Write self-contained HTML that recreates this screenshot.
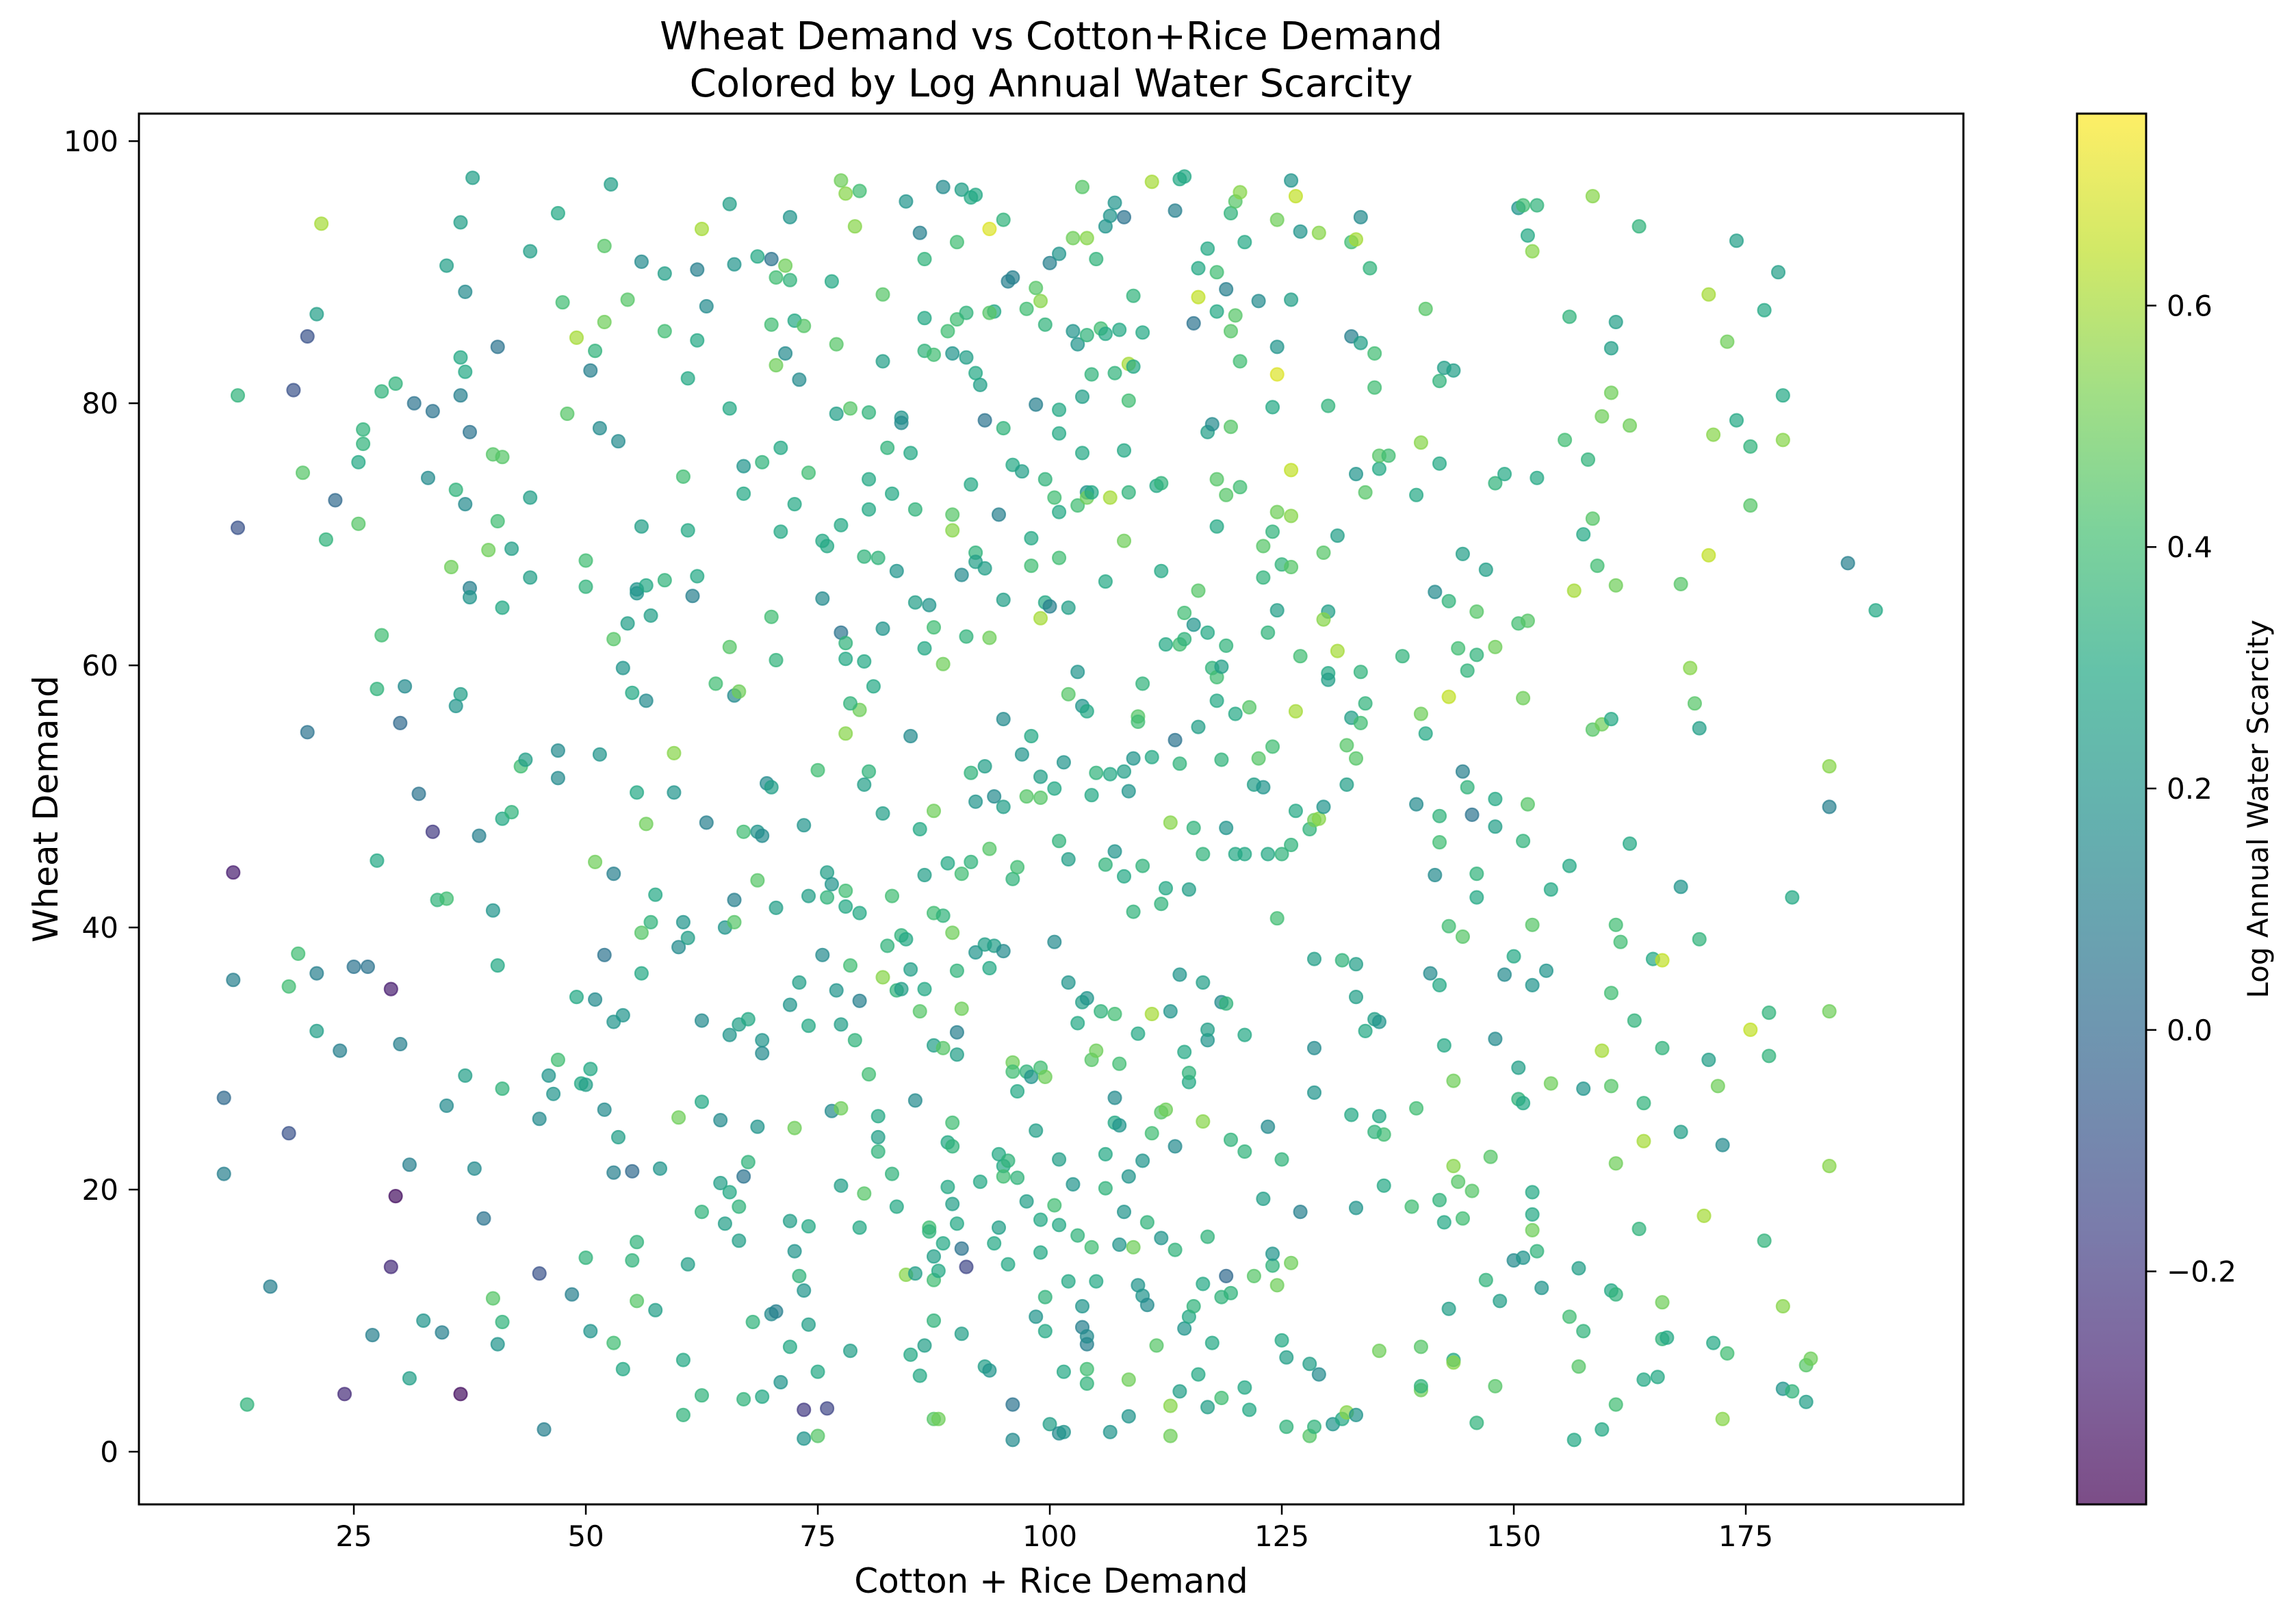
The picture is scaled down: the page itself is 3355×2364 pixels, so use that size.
<!DOCTYPE html>
<html><head><meta charset="utf-8"><style>
html,body{margin:0;padding:0;background:#fff}
svg{display:block}
text{font-family:"DejaVu Sans","Liberation Sans",sans-serif;fill:#000}
</style></head><body>
<svg id="chart" width="3355" height="2364" viewBox="0 0 3355 2364" xmlns="http://www.w3.org/2000/svg">
<defs>
<linearGradient id="vir" x1="0" y1="1" x2="0" y2="0">
<stop offset="0" stop-color="#440154" stop-opacity="0.7"/><stop offset="0.1" stop-color="#482475" stop-opacity="0.7"/><stop offset="0.2" stop-color="#414487" stop-opacity="0.7"/><stop offset="0.3" stop-color="#355f8d" stop-opacity="0.7"/><stop offset="0.4" stop-color="#2a788e" stop-opacity="0.7"/><stop offset="0.5" stop-color="#21918c" stop-opacity="0.7"/><stop offset="0.6" stop-color="#22a884" stop-opacity="0.7"/><stop offset="0.7" stop-color="#44bf70" stop-opacity="0.7"/><stop offset="0.8" stop-color="#7ad151" stop-opacity="0.7"/><stop offset="0.9" stop-color="#bddf26" stop-opacity="0.7"/><stop offset="1" stop-color="#fde725" stop-opacity="0.7"/>
</linearGradient>
</defs>
<text x="1536" y="72" font-size="56" text-anchor="middle">Wheat Demand vs Cotton+Rice Demand</text>
<text x="1536" y="141" font-size="56" text-anchor="middle">Colored by Log Annual Water Scarcity</text>
<g id="points"></g>
<rect x="203" y="166" width="2666" height="2032" fill="none" stroke="#000" stroke-width="3"/>
<g id="xticks"></g>
<g id="yticks"></g>
<text x="1536" y="2327" font-size="50" text-anchor="middle">Cotton + Rice Demand</text>
<text x="0" y="0" font-size="50" text-anchor="middle" transform="translate(84,1182) rotate(-90)">Wheat Demand</text>
<rect x="3035" y="166" width="101" height="2032" fill="url(#vir)" stroke="#000" stroke-width="3"/>
<g id="cticks"></g>
<text x="0" y="0" font-size="42" text-anchor="middle" transform="translate(3314,1182) rotate(-90)">Log Annual Water Scarcity</text>
</svg>
<script>
const xTicks=[25,50,75,100,125,150,175];
const yTicks=[0,20,40,60,80,100];
const cTicks=[-0.2,0.0,0.2,0.4,0.6];
const cTickLabels=["\u22120.2","0.0","0.2","0.4","0.6"];
const cotton=[];const wheat=[];const scarcity=[];
const pts=[
[21.5,93.7,0.6],[37.8,97.2,0.25],[52.7,96.7,0.25],[36.5,93.8,0.25],[35,90.5,0.25],[44,91.6,0.25],[47,94.5,0.3],[52,92,0.45],[56,90.8,0.15],[58.5,89.9,0.25],[62.5,93.3,0.6],[62,90.2,0.1],[65.5,95.2,0.25],[66,90.6,0.2],[68.5,91.2,0.3],[70,91,0.05],[71.5,90.5,0.5],[72,94.2,0.2],[70.5,89.6,0.4],[77.5,97,0.5],[78,96,0.55],[79.5,96.2,0.4],[79,93.5,0.55],[84.5,95.4,0.2],[86,93,0.1],[88.5,96.5,0.15],[90.5,96.3,0.25],[91.5,95.7,0.3],[92,95.9,0.3],[93.5,93.3,0.7],[95,94,0.35],[90,92.3,0.4],[86.5,91,0.35],[100,90.7,0.1],[101,91.4,0.2],[102.5,92.6,0.5],[103.5,96.5,0.45],[104,92.6,0.55],[105,91,0.35],[106,93.5,0.2],[106.5,94.3,0.2],[107,95.3,0.2],[108,94.2,0.05],[111,96.9,0.6],[113.5,94.7,0.1],[114,97.1,0.3],[114.5,97.3,0.3],[117,91.8,0.3],[118,90,0.4],[119.5,94.5,0.35],[120,95.4,0.45],[120.5,96.1,0.55],[121,92.3,0.3],[122.5,87.8,0.15],[124.5,94,0.5],[126,97,0.2],[126.5,95.8,0.65],[127,93.1,0.2],[129,93,0.55],[132.5,92.3,0.4],[133,92.5,0.6],[133.5,94.2,0.15],[134.5,90.3,0.35],[150.5,94.9,0.2],[151,95.1,0.4],[152.5,95.1,0.35],[151.5,92.8,0.3],[152,91.6,0.55],[158.5,95.8,0.55],[163.5,93.5,0.35],[174,92.4,0.25],[178.5,90,0.25],
[12.5,80.6,0.35],[18.5,81,-0.1],[20,85.1,-0.1],[21,86.8,0.25],[19.5,74.7,0.45],[26,78,0.35],[26,76.9,0.35],[28,80.9,0.35],[29.5,81.5,0.35],[31.5,80,0.05],[33.5,79.4,0.05],[36.5,80.6,0.1],[37,82.4,0.3],[37,88.5,0.15],[36.5,83.5,0.3],[40.5,84.3,0.05],[47.5,87.7,0.4],[48,79.2,0.45],[49,85,0.6],[50.5,82.5,0.1],[51,84,0.35],[52,86.2,0.5],[54.5,87.9,0.45],[51.5,78.1,0.15],[53.5,77.1,0.15],[58.5,85.5,0.4],[62,84.8,0.3],[63,87.4,0.15],[61,81.9,0.3],[65.5,79.6,0.3],[67,75.2,0.2],[69,75.5,0.35],[70,86,0.4],[70.5,82.9,0.5],[71,76.6,0.3],[71.5,83.8,0.15],[72,89.4,0.35],[72.5,86.3,0.3],[73,81.8,0.15],[73.5,85.9,0.45],[76.5,89.3,0.3],[77,84.5,0.45],[78.5,79.6,0.45],[80.5,74.2,0.3],[80.5,79.3,0.35],[82,88.3,0.45],[82,83.2,0.25],[84,78.9,0.2],[84,78.5,0.15],[86.5,86.5,0.3],[86.5,84,0.35],[87.5,83.7,0.4],[89,85.5,0.4],[89.5,83.8,0.2],[90,86.4,0.4],[91,86.9,0.35],[91,83.5,0.25],[92.5,81.4,0.25],[94,87,0.3],[93.5,86.9,0.45],[92,82.3,0.3],[95.5,89.3,0.1],[96,89.6,0.1],[97.5,87.2,0.4],[98.5,88.8,0.45],[99,87.8,0.55],[98.5,79.9,0.1],[99.5,86,0.35],[101,79.5,0.3],[101,77.7,0.3],[102.5,85.5,0.2],[103,84.5,0.2],[103.5,80.5,0.25],[104,85.2,0.35],[104.5,82.2,0.35],[105.5,85.7,0.4],[106,85.3,0.3],[107,82.3,0.35],[107.5,85.6,0.3],[108.5,80.2,0.4],[108.5,83,0.6],[109,82.8,0.3],[109,88.2,0.35],[110,85.4,0.3],[115.5,86.1,0.05],[116,88.1,0.65],[116,90.3,0.3],[118,87,0.3],[119,88.7,0.1],[119.5,85.5,0.45],[120,86.7,0.45],[120.5,83.2,0.4],[117,77.8,0.25],[117.5,78.4,0.15],[119.5,78.2,0.45],[124,79.7,0.3],[124.5,84.3,0.2],[124.5,82.2,0.7],[126,87.9,0.25],[132.5,85.1,0.1],[133.5,84.6,0.25],[135,83.8,0.4],[135,81.2,0.4],[140.5,87.2,0.45],[142,81.7,0.35],[142.5,82.7,0.25],[143.5,82.5,0.25],[156,86.6,0.35],[160.5,84.2,0.25],[161,86.2,0.25],[160.5,80.8,0.5],[162.5,78.3,0.5],[159.5,79,0.5],[171,88.3,0.6],[173,84.7,0.5],[177,87.1,0.3],[179,80.6,0.3],[171.5,77.6,0.55],[174,78.7,0.3],[175.5,76.7,0.35],[179,77.2,0.55],
[12.5,70.5,-0.1],[23,72.6,0],[22,69.6,0.35],[25.5,75.5,0.3],[25.5,70.8,0.45],[28,62.3,0.4],[33,74.3,0.15],[36,73.4,0.35],[37,72.3,0.15],[35.5,67.5,0.5],[37.5,65.9,0.1],[37.5,65.2,0.2],[37.5,77.8,0.05],[39.5,68.8,0.5],[40,76.1,0.45],[41,75.9,0.45],[42,68.9,0.25],[40.5,71,0.4],[41,64.4,0.3],[44,72.8,0.25],[44,66.7,0.25],[50,66,0.35],[50,68,0.4],[53,62,0.45],[54.5,63.2,0.25],[54,59.8,0.2],[55.5,65.5,0.2],[55.5,65.8,0.2],[56,70.6,0.25],[56.5,66.1,0.3],[57,63.8,0.25],[58.5,66.5,0.35],[60.5,74.4,0.4],[61,70.3,0.3],[62,66.8,0.3],[61.5,65.3,0.1],[64,58.6,0.4],[65.5,61.4,0.45],[66,57.7,0.15],[66.5,58,0.5],[67,73.1,0.3],[70,63.7,0.4],[70.5,60.4,0.35],[71,70.2,0.3],[72.5,72.3,0.3],[74,74.7,0.4],[75.5,69.5,0.3],[75.5,65.1,0.15],[76,69.1,0.3],[77,79.2,0.25],[77.5,70.7,0.3],[77.5,62.5,0.05],[78,61.7,0.35],[78,60.5,0.3],[80,68.3,0.35],[80.5,71.9,0.3],[81.5,68.2,0.35],[80,60.3,0.3],[81,58.4,0.3],[82,62.8,0.2],[82.5,76.6,0.35],[83,73.1,0.3],[83.5,67.2,0.2],[85,76.2,0.3],[85.5,71.9,0.35],[85.5,64.8,0.25],[86.5,61.3,0.3],[87,64.6,0.2],[87.5,62.9,0.4],[88.5,60.1,0.5],[89.5,71.5,0.45],[89.5,70.3,0.55],[90.5,66.9,0.15],[91,62.2,0.35],[91.5,73.8,0.3],[92,68.6,0.35],[92,67.9,0.25],[93,67.4,0.25],[93,78.7,0.05],[93.5,62.1,0.5],[94.5,71.5,0.1],[95,65,0.25],[95,78.1,0.35],[96,75.3,0.3],[97,74.8,0.25],[98,69.7,0.3],[98,67.6,0.4],[99,63.6,0.6],[99.5,64.8,0.3],[99.5,74.2,0.35],[100,64.5,0.1],[100.5,72.8,0.4],[101,71.7,0.3],[101,68.2,0.4],[102,64.4,0.25],[103,72.2,0.4],[103.5,76.2,0.3],[104,73.2,0.2],[104,72.8,0.5],[104.5,73.2,0.3],[106,66.4,0.3],[106.5,72.8,0.6],[108,69.5,0.5],[108,76.4,0.3],[108.5,73.2,0.35],[111.5,73.7,0.3],[112,73.9,0.35],[112,67.2,0.3],[112.5,61.6,0.3],[114,61.6,0.4],[114.5,64,0.4],[114.5,62,0.35],[115.5,63.1,0.2],[116,65.7,0.45],[117,62.5,0.3],[118,70.6,0.3],[118,74.2,0.45],[119,73,0.45],[119,61.5,0.35],[120.5,73.6,0.4],[123,69.1,0.45],[124,70.2,0.35],[124.5,71.7,0.5],[125,67.7,0.35],[126,71.4,0.55],[126,74.9,0.65],[123.5,62.5,0.35],[123,66.7,0.35],[124.5,64.2,0.25],[126,67.5,0.45],[127,60.7,0.4],[129.5,68.6,0.45],[130,79.8,0.35],[130,64.1,0.25],[129.5,63.5,0.55],[131,69.9,0.25],[131,61.1,0.6],[133,74.6,0.2],[134,73.2,0.45],[135.5,75,0.3],[135.5,76,0.45],[136.5,76,0.4],[139.5,73,0.3],[140,77,0.55],[138,60.7,0.35],[141.5,65.6,0.15],[142,75.4,0.3],[143,64.9,0.35],[144,61.3,0.4],[144.5,68.5,0.25],[145,59.6,0.35],[146,64.1,0.45],[147,67.3,0.25],[148,73.9,0.35],[149,74.6,0.3],[146,60.8,0.35],[148,61.4,0.5],[150.5,63.2,0.4],[151.5,63.4,0.45],[152.5,74.3,0.3],[155.5,77.2,0.4],[156.5,65.7,0.6],[157.5,70,0.3],[158,75.7,0.35],[158.5,71.2,0.45],[159,67.6,0.4],[161,66.1,0.5],[168,66.2,0.45],[171,68.4,0.65],[175.5,72.2,0.45],[186,67.8,0.1],[189,64.2,0.3],
[12,44.2,-0.3],[20,54.9,0.05],[25,37,0.05],[27.5,58.2,0.35],[27.5,45.1,0.3],[30,55.6,0],[30.5,58.4,0.15],[32,50.2,0.05],[33.5,47.3,-0.2],[34,42.1,0.35],[35,42.2,0.4],[36,56.9,0.2],[36.5,57.8,0.25],[38.5,47,0.1],[40,41.3,0.2],[40.5,37.1,0.3],[41,48.3,0.3],[42,48.8,0.35],[43,52.3,0.4],[43.5,52.8,0.25],[47,53.5,0.15],[47,51.4,0.15],[51.5,53.2,0.2],[51,45,0.5],[53,44.1,0.1],[55.5,50.3,0.3],[55,57.9,0.3],[56.5,47.9,0.5],[56.5,57.3,0.15],[57,40.4,0.35],[57.5,42.5,0.3],[59.5,53.3,0.55],[59.5,50.3,0.2],[60,38.5,0.15],[60.5,40.4,0.2],[61,39.2,0.25],[63,48,0.1],[65,40,0.2],[66,42.1,0.1],[66,40.4,0.45],[67,47.3,0.4],[68.5,47.3,0.2],[69,47,0.15],[68.5,43.6,0.45],[69.5,51,0.15],[70,50.7,0.25],[70.5,41.5,0.25],[73.5,47.8,0.2],[74,42.4,0.25],[75,52,0.4],[76,42.3,0.35],[76,44.2,0.25],[76.5,43.3,0.2],[78,42.8,0.4],[78,41.6,0.3],[79.5,41.1,0.3],[79.5,56.6,0.5],[78,54.8,0.55],[78.5,57.1,0.35],[80.5,51.9,0.35],[80,50.9,0.25],[82,48.7,0.25],[83,42.4,0.4],[84,39.4,0.35],[84.5,39.1,0.3],[85,54.6,0.15],[86,47.5,0.3],[86.5,44,0.25],[87.5,41.1,0.4],[87.5,48.9,0.5],[88.5,40.9,0.35],[89,44.9,0.3],[89.5,39.6,0.5],[90.5,44.1,0.4],[91.5,45,0.35],[91.5,51.8,0.35],[92,49.6,0.2],[93,52.3,0.25],[93.5,46,0.45],[94,50,0.15],[95,49.2,0.25],[95,55.9,0.15],[96,43.7,0.35],[96.5,44.6,0.4],[97,53.2,0.2],[97.5,50,0.45],[98,54.6,0.3],[99,49.9,0.45],[99,51.5,0.25],[100.5,50.6,0.3],[101,46.6,0.35],[101.5,52.6,0.2],[102,45.2,0.25],[102,57.8,0.45],[103,59.5,0.2],[103.5,56.9,0.2],[104,56.5,0.3],[104.5,50.1,0.3],[105,51.8,0.35],[106,44.8,0.35],[106.5,51.7,0.3],[107,45.8,0.2],[108,43.9,0.3],[108,51.9,0.25],[108.5,50.4,0.2],[109,52.9,0.2],[109,41.2,0.35],[109.5,56.1,0.45],[109.5,55.7,0.4],[110,44.7,0.35],[110,58.6,0.35],[111,53,0.3],[112,41.8,0.35],[112.5,43,0.3],[113,48,0.55],[113.5,54.3,0.05],[114,52.5,0.35],[115,42.9,0.25],[115.5,47.6,0.35],[116,55.3,0.25],[116.5,45.6,0.35],[117.5,59.8,0.35],[118,57.3,0.3],[118,59.1,0.4],[118.5,52.8,0.35],[118.5,59.9,0.25],[119,47.6,0.2],[120,56.3,0.3],[120,45.6,0.3],[121,45.6,0.3],[121.5,56.8,0.45],[122,50.9,0.25],[122.5,52.9,0.45],[123,50.7,0.2],[123.5,45.6,0.3],[124,53.8,0.4],[124.5,40.7,0.4],[125,45.6,0.35],[126,46.3,0.35],[126.5,48.9,0.3],[126.5,56.5,0.6],[128,47.5,0.35],[128.5,48.2,0.5],[129,48.3,0.55],[129.5,49.2,0.2],[130,59.4,0.3],[130,58.9,0.25],[132,50.9,0.25],[132,53.9,0.45],[132.5,56,0.25],[133.5,55.6,0.4],[133,52.9,0.45],[133.5,59.5,0.35],[134,57.1,0.35],[139.5,49.4,0.15],[140,56.3,0.5],[140.5,54.8,0.3],[141.5,44,0.15],[142,48.5,0.35],[142,46.5,0.4],[143,57.6,0.65],[143,40.1,0.4],[144.5,51.9,0.1],[145,50.7,0.35],[145.5,48.6,0.05],[146,42.3,0.3],[146,44.1,0.35],[148,47.7,0.25],[148,49.8,0.3],[151,57.5,0.5],[151,46.6,0.35],[151.5,49.4,0.45],[152,40.2,0.45],[154,42.9,0.3],[156,44.7,0.3],[158.5,55.1,0.45],[159.5,55.5,0.5],[160.5,55.9,0.3],[161,40.2,0.4],[161.5,38.9,0.4],[162.5,46.4,0.3],[165,37.6,0.3],[166,37.5,0.65],[169,59.8,0.55],[170,55.2,0.25],[169.5,57.1,0.45],[180,42.3,0.3],[184,52.3,0.55],[184,49.2,0.1],[168,43.1,0.2],
[11,27,0],[12,36,0.1],[18,35.5,0.4],[18,24.3,-0.1],[19,38,0.4],[21,32.1,0.25],[21,36.5,0.1],[23.5,30.6,0.1],[26.5,37,0.05],[29,35.3,-0.3],[30,31.1,0.1],[29.5,19.5,-0.35],[31,21.9,0.1],[35,26.4,0.15],[37,28.7,0.25],[38,21.6,0.15],[41,27.7,0.35],[45,25.4,0.15],[46,28.7,0.2],[46.5,27.3,0.2],[47,29.9,0.4],[49,34.7,0.3],[49.5,28.1,0.3],[50,28,0.25],[50.5,29.2,0.3],[51,34.5,0.15],[52,37.9,0.05],[52,26.1,0.15],[53,32.8,0.2],[53.5,24,0.25],[54,33.3,0.2],[53,21.3,0.1],[55,21.4,0],[56,39.6,0.45],[56,36.5,0.3],[58,21.6,0.2],[60,25.5,0.5],[62.5,32.9,0.15],[62.5,26.7,0.3],[64.5,25.3,0.15],[65.5,31.8,0.2],[66.5,32.6,0.25],[67.5,33,0.3],[67.5,22.1,0.35],[67,21,0.05],[68.5,24.8,0.2],[69,31.4,0.2],[69,30.4,0.15],[72,34.1,0.2],[72.5,24.7,0.5],[73,35.8,0.25],[74,32.5,0.3],[75.5,37.9,0.15],[76.5,26,0.15],[77.5,26.2,0.5],[77,35.2,0.2],[77.5,32.6,0.25],[78.5,37.1,0.4],[79,31.4,0.35],[79.5,34.4,0.1],[80.5,28.8,0.4],[81.5,25.6,0.3],[81.5,24,0.25],[82,36.2,0.55],[82.5,38.6,0.35],[83.5,35.2,0.35],[84,35.3,0.25],[85,36.8,0.25],[85.5,26.8,0.15],[86,33.6,0.45],[86.5,35.3,0.3],[87.5,31,0.25],[88.5,30.8,0.45],[89,23.6,0.3],[89.5,23.3,0.35],[89.5,25.1,0.4],[90,32,0.1],[90,36.7,0.35],[90.5,33.8,0.5],[90,30.3,0.25],[92,38.1,0.2],[93,38.7,0.25],[93.5,36.9,0.3],[94,38.6,0.25],[94.5,22.7,0.3],[95,38.2,0.15],[95,21.8,0.3],[95.5,22.2,0.35],[96,29.7,0.5],[96,29,0.4],[96.5,27.5,0.3],[97.5,29,0.35],[98,28.6,0.2],[98.5,24.5,0.25],[99,29.3,0.4],[99.5,28.6,0.5],[100.5,38.9,0.15],[101,22.3,0.25],[102,35.8,0.2],[103,32.7,0.3],[103.5,34.3,0.25],[104,34.6,0.2],[104.5,29.9,0.45],[105,30.6,0.5],[105.5,33.6,0.35],[106,22.7,0.3],[107,33.4,0.4],[107,27,0.15],[107,25.1,0.3],[107.5,24.9,0.2],[107.5,29.6,0.4],[108.5,21,0.2],[109.5,31.9,0.3],[110,22.2,0.2],[111,33.4,0.6],[111,24.3,0.4],[112,25.9,0.45],[112.5,26.1,0.5],[113,33.6,0.2],[113.5,23.3,0.15],[114,36.4,0.2],[114.5,30.5,0.3],[115,28.2,0.3],[115,28.9,0.35],[116.5,35.8,0.25],[117,31.4,0.2],[117,32.2,0.25],[116.5,25.2,0.55],[118.5,34.3,0.15],[119,34.2,0.35],[119.5,23.8,0.35],[121,22.9,0.35],[121,31.8,0.3],[123.5,24.8,0.15],[125,22.3,0.35],[128.5,30.8,0.15],[128.5,27.4,0.2],[128.5,37.6,0.25],[131.5,37.5,0.35],[132.5,25.7,0.3],[133,34.7,0.25],[133,37.2,0.25],[134,32.1,0.3],[135,33,0.25],[135.5,32.8,0.2],[135.5,25.6,0.3],[136,24.2,0.4],[136,20.3,0.3],[139.5,26.2,0.4],[141,36.5,0.15],[142,35.6,0.3],[142.5,31,0.3],[143.5,28.3,0.5],[143.5,21.8,0.55],[144.5,39.3,0.45],[144,20.6,0.45],[145.5,19.9,0.45],[147.5,22.5,0.45],[148,31.5,0.15],[149,36.4,0.15],[150,37.8,0.3],[150.5,29.3,0.25],[150.5,26.9,0.35],[151,26.6,0.3],[152,35.6,0.2],[152,19.8,0.3],[153.5,36.7,0.2],[154,28.1,0.5],[157.5,27.7,0.2],[159.5,30.6,0.6],[160.5,27.9,0.45],[160.5,35,0.4],[161,22,0.5],[163,32.9,0.35],[164,26.6,0.35],[164,23.7,0.6],[166,30.8,0.35],[168,24.4,0.25],[170,39.1,0.35],[171,29.9,0.25],[172,27.9,0.5],[172.5,23.4,0.15],[175.5,32.2,0.65],[177.5,33.5,0.35],[177.5,30.2,0.35],[184,33.6,0.5],[184,21.8,0.55],
[11,21.2,0.1],[13.5,3.6,0.35],[16,12.6,0.1],[24,4.4,-0.25],[27,8.9,0.1],[29,14.1,-0.25],[31,5.6,0.25],[32.5,10,0.2],[34.5,9.1,0.1],[36.5,4.4,-0.35],[39,17.8,0.05],[40,11.7,0.45],[40.5,8.2,0.2],[41,9.9,0.35],[45,13.6,-0.1],[45.5,1.7,0.1],[48.5,12,0.1],[50,14.8,0.35],[50.5,9.2,0.2],[53,8.3,0.4],[54,6.3,0.3],[55,14.6,0.35],[55.5,11.5,0.45],[55.5,16,0.35],[57.5,10.8,0.25],[60.5,7,0.3],[60.5,2.8,0.35],[61,14.3,0.25],[62.5,18.3,0.35],[62.5,4.3,0.35],[64.5,20.5,0.25],[65,17.4,0.25],[65.5,19.8,0.3],[66.5,16.1,0.25],[66.5,18.7,0.35],[67,4,0.35],[68,9.9,0.35],[69,4.2,0.3],[70,10.5,0.15],[70.5,10.7,0.1],[71,5.3,0.2],[72,8,0.3],[72,17.6,0.25],[72.5,15.3,0.2],[73,13.4,0.35],[73.5,12.3,0.2],[74,9.7,0.25],[73.5,3.2,-0.2],[74,17.2,0.3],[73.5,1,0.2],[75,1.2,0.45],[75,6.1,0.3],[76,3.3,-0.15],[77.5,20.3,0.25],[78.5,7.7,0.25],[79.5,17.1,0.3],[80,19.7,0.45],[81.5,22.9,0.35],[83,21.2,0.35],[83.5,18.7,0.3],[84.5,13.5,0.55],[85,7.4,0.3],[85.5,13.6,0.25],[86,5.8,0.3],[86.5,8.1,0.25],[87,17.1,0.4],[87,16.8,0.35],[87.5,14.9,0.25],[87.5,13.1,0.4],[87.5,10,0.35],[87.5,2.5,0.45],[88,2.5,0.5],[88,13.8,0.3],[88.5,15.9,0.3],[89,20.2,0.3],[89.5,18.9,0.25],[90,17.4,0.3],[90.5,15.5,0.05],[90.5,9,0.25],[91,14.1,-0.15],[92.5,20.6,0.3],[93,6.5,0.25],[93.5,6.2,0.2],[94,15.9,0.3],[94.5,17.1,0.25],[95,21,0.4],[95.5,14.3,0.3],[96,3.6,0.05],[96,0.9,0.15],[96.5,20.9,0.35],[97.5,19.1,0.25],[98.5,10.3,0.2],[99,15.2,0.3],[99,17.7,0.3],[99.5,11.8,0.35],[99.5,9.2,0.3],[100,2.1,0.25],[100.5,18.8,0.4],[101,17.3,0.3],[101,1.4,0.15],[101.5,1.5,0.2],[101.5,6.1,0.3],[102,13,0.3],[102.5,20.4,0.2],[103,16.5,0.35],[103.5,11.1,0.2],[103.5,9.5,0.1],[104,5.2,0.35],[104,6.3,0.4],[104,8.2,0.1],[104,8.8,0.15],[104.5,15.6,0.4],[105,13,0.3],[106,20.1,0.35],[106.5,1.5,0.2],[107.5,15.8,0.2],[108,18.3,0.2],[108.5,5.5,0.5],[108.5,2.7,0.2],[109,15.6,0.5],[109.5,12.7,0.2],[110,11.9,0.2],[110.5,11.2,0.15],[110.5,17.5,0.35],[111.5,8.1,0.45],[112,16.3,0.2],[113,1.2,0.5],[113,3.5,0.55],[113.5,15.4,0.35],[114.5,9.4,0.2],[114,4.6,0.25],[115,10.3,0.3],[115.5,11.1,0.35],[116,5.9,0.3],[116.5,12.8,0.3],[117,16.4,0.35],[117,3.4,0.25],[117.5,8.3,0.3],[118.5,11.8,0.35],[118.5,4.1,0.4],[119,13.4,0],[119.5,12.1,0.35],[121,4.9,0.3],[121.5,3.2,0.3],[122,13.4,0.45],[123,19.3,0.25],[124,14.2,0.35],[124.5,12.7,0.5],[124,15.1,0.2],[125,8.5,0.3],[125.5,1.9,0.35],[125.5,7.2,0.25],[126,14.4,0.5],[127,18.3,0.1],[128,1.2,0.45],[128.5,1.9,0.35],[128,6.7,0.25],[129,5.9,0.15],[130.5,2.1,0.2],[131.5,2.5,0.3],[132,3,0.55],[133,2.8,0.2],[133,18.6,0.2],[135,24.4,0.35],[135.5,7.7,0.5],[139,18.7,0.4],[140,4.7,0.5],[140,5,0.35],[140,8,0.45],[142,19.2,0.35],[142.5,17.5,0.3],[143,10.9,0.25],[143.5,7,0.3],[143.5,6.8,0.55],[144.5,17.8,0.4],[146,2.2,0.35],[147,13.1,0.35],[148,5,0.45],[148.5,11.5,0.25],[150,14.6,0.15],[151,14.8,0.2],[152,18.1,0.3],[152,16.9,0.5],[152.5,15.3,0.35],[153,12.5,0.2],[156.5,0.9,0.3],[156,10.3,0.4],[157,14,0.25],[157,6.5,0.45],[157.5,9.2,0.35],[159.5,1.7,0.3],[160.5,12.3,0.3],[161,3.6,0.4],[161,12,0.35],[163.5,17,0.35],[164,5.5,0.3],[165.5,5.7,0.3],[166,11.4,0.5],[166,8.6,0.35],[166.5,8.7,0.3],[171.5,8.3,0.3],[172.5,2.5,0.55],[173,7.5,0.4],[177,16.1,0.35],[179,11.1,0.55],[179,4.8,0.2],[180,4.6,0.35],[181.5,3.8,0.25],[181.5,6.6,0.45],[182,7.1,0.5],[170.5,18,0.6]
];
pts.forEach(p=>{cotton.push(p[0]);wheat.push(p[1]);scarcity.push(p[2]);});

const NS="http://www.w3.org/2000/svg";
const X0=203,X1=2869,Y0=166,Y1=2198;
const xmin=1.84,xmax=198.45,ymin=-4.02,ymax=102.1,cmin=-0.393,cmax=0.759;
function sx(v){return X0+(v-xmin)/(xmax-xmin)*(X1-X0);}
function sy(v){return Y1-(v-ymin)/(ymax-ymin)*(Y1-Y0);}
function sc(v){return Y1-(v-cmin)/(cmax-cmin)*(Y1-Y0);}
const vir=[[68,1,84],[72,36,117],[65,68,135],[53,95,141],[42,120,142],[33,145,140],[34,168,132],[68,191,112],[122,209,81],[189,223,38],[253,231,37]];
function cmap(v){let t=(v-cmin)/(cmax-cmin);t=Math.max(0,Math.min(1,t))*10;const i=Math.min(9,Math.floor(t)),f=t-i;const a=vir[i],b=vir[i+1];return 'rgb('+[0,1,2].map(k=>Math.round(a[k]+(b[k]-a[k])*f)).join(',')+')';}

const g=document.getElementById('points');
for(let i=0;i<cotton.length;i++){
  const c=document.createElementNS(NS,'circle');
  
  
  c.setAttribute('cx',sx(cotton[i]).toFixed(1));
  c.setAttribute('cy',sy(wheat[i]).toFixed(1));
  c.setAttribute('r','9.5');
  const col=cmap(scarcity[i]);
  c.setAttribute('fill',col);c.setAttribute('fill-opacity','0.7');
  c.setAttribute('stroke',col);c.setAttribute('stroke-opacity','0.7');c.setAttribute('stroke-width','2.2');
  g.appendChild(c);
}
const gx=document.getElementById('xticks');
xTicks.forEach(v=>{
  const x=sx(v);
  const l=document.createElementNS(NS,'line');
  
  
  l.setAttribute('x1',x);l.setAttribute('x2',x);l.setAttribute('y1',Y1);l.setAttribute('y2',Y1+15);l.setAttribute('stroke','#000');l.setAttribute('stroke-width','2.5');
  gx.appendChild(l);
  const t=document.createElementNS(NS,'text');
  
  
  t.setAttribute('x',x);t.setAttribute('y',2259);t.setAttribute('font-size','42');t.setAttribute('text-anchor','middle');
  t.textContent=String(v);gx.appendChild(t);
});
const gy=document.getElementById('yticks');
yTicks.forEach(v=>{
  const y=sy(v);
  const l=document.createElementNS(NS,'line');
  
  
  l.setAttribute('x1',X0-15);l.setAttribute('x2',X0);l.setAttribute('y1',y);l.setAttribute('y2',y);l.setAttribute('stroke','#000');l.setAttribute('stroke-width','2.5');
  gy.appendChild(l);
  const t=document.createElementNS(NS,'text');
  
  
  t.setAttribute('x',173);t.setAttribute('y',y+15);t.setAttribute('font-size','42');t.setAttribute('text-anchor','end');
  t.textContent=String(v);gy.appendChild(t);
});
const gc=document.getElementById('cticks');
cTicks.forEach((v,i)=>{
  const y=sc(v);
  const l=document.createElementNS(NS,'line');
  
  
  l.setAttribute('x1',3136);l.setAttribute('x2',3151);l.setAttribute('y1',y);l.setAttribute('y2',y);l.setAttribute('stroke','#000');l.setAttribute('stroke-width','2.5');
  gc.appendChild(l);
  const t=document.createElementNS(NS,'text');
  
  
  t.setAttribute('x',3166);t.setAttribute('y',y+15);t.setAttribute('font-size','42');
  t.textContent=cTickLabels[i];gc.appendChild(t);
});
</script>
</body></html>
